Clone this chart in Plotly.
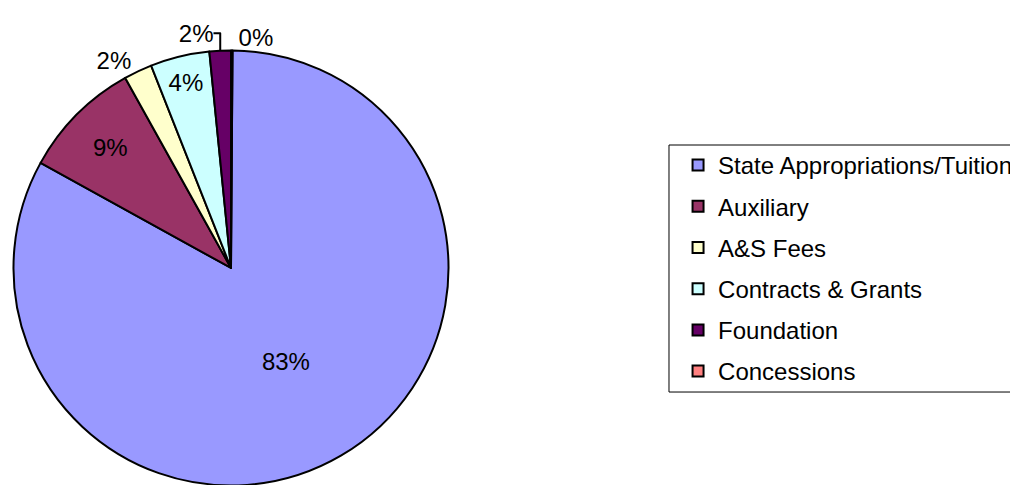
import plotly.graph_objects as go

labels = ["State Appropriations/Tuition", "Auxiliary", "A&S Fees",
          "Contracts & Grants", "Foundation", "Concessions"]
values = [83.0, 8.9, 2.1, 4.4, 1.6, 0.1]
colors = ["#9999FF", "#993366", "#FFFFCC", "#CCFFFF", "#660066", "#FF8080"]
text_pos = ["inside", "inside", "outside", "inside", "outside", "outside"]

FONT = "Liberation Sans, Arial, sans-serif"

fig = go.Figure()
fig.add_trace(go.Pie(
    labels=labels, values=values, sort=False, direction="clockwise", rotation=0.4,
    marker=dict(colors=colors, line=dict(color="black", width=2)),
    texttemplate="%{percent:.0%}", textposition=text_pos,
    insidetextorientation="horizontal",
    textfont=dict(family=FONT, size=24, color="black"),
    showlegend=False, hoverinfo="label+percent",
    domain=dict(x=[0.0054, 0.4327], y=[0.01546, 0.9124]),
))

# legend entries
for lab, col in zip(labels, colors):
    fig.add_trace(go.Scatter(
        x=[None], y=[None], mode="markers", name=lab, legendgroup=lab,
        marker=dict(symbol="square", size=11, color=col,
                    line=dict(color="black", width=2)),
    ))

fig.update_layout(
    width=1018, height=485,
    margin=dict(l=0, r=0, t=0, b=0, autoexpand=False),
    paper_bgcolor="white", plot_bgcolor="white",
    font=dict(family=FONT, size=24, color="black"),
    xaxis=dict(visible=False), yaxis=dict(visible=False),
    uniformtext=dict(minsize=24, mode="show"),
    legend=dict(x=0.6582, y=0.7216, xanchor="left", yanchor="top",
                borderwidth=0, bgcolor="rgba(0,0,0,0)",
                traceorder="grouped", tracegroupgap=7,
                font=dict(family=FONT, size=24, color="black")),
    shapes=[dict(type="rect", xref="paper", yref="paper",
                 x0=0.6493, x1=1.02, y0=0.2082, y1=0.7175,
                 line=dict(color="black", width=1), fillcolor="rgba(0,0,0,0)",
                 layer="below")],
)

fig.write_html("out.html")
